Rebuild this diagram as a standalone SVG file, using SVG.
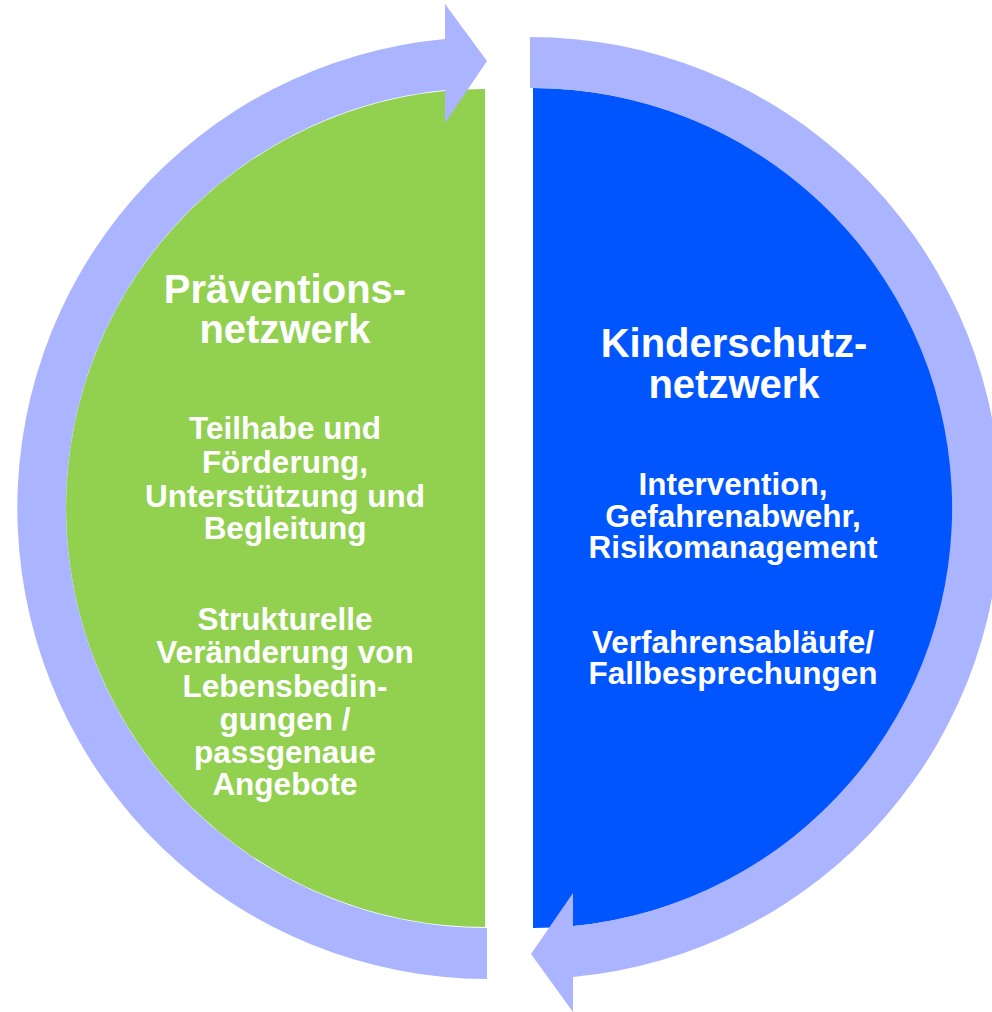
<svg xmlns="http://www.w3.org/2000/svg" width="992" height="1012" viewBox="0 0 992 1012">
<style>
.t{font-family:"Liberation Sans",Arial,sans-serif;font-weight:bold;fill:#fff;text-anchor:middle}
.h{font-size:40px}
.b{font-size:31.5px}
.ring{fill:#AAB4FF}
</style>
<rect width="992" height="1012" fill="#fff"/>
<g id="node-praevention">
<path d="M485 89 A419 419 0 0 0 485 927 Z" fill="#92D050"/>
<text class="t h" x="285" y="303">Präventions-</text>
<text class="t h" x="285" y="343">netzwerk</text>
<text class="t b" x="285" y="439">Teilhabe und</text>
<text class="t b" x="285" y="473">Förderung,</text>
<text class="t b" x="285" y="507">Unterstützung und</text>
<text class="t b" x="285" y="539">Begleitung</text>
<text class="t b" x="285" y="630">Strukturelle</text>
<text class="t b" x="285" y="663">Veränderung von</text>
<text class="t b" x="285" y="697">Lebensbedin-</text>
<text class="t b" x="285" y="730">gungen /</text>
<text class="t b" x="285" y="763">passgenaue</text>
<text class="t b" x="285" y="795">Angebote</text>
</g>
<g id="node-kinderschutz">
<path d="M533 88 A420 420 0 0 1 533 928 Z" fill="#0055FF"/>
<text class="t h" x="734" y="357">Kinderschutz-</text>
<text class="t h" x="734" y="398">netzwerk</text>
<text class="t b" x="733" y="495">Intervention,</text>
<text class="t b" x="733" y="527">Gefahrenabwehr,</text>
<text class="t b" x="733" y="558">Risikomanagement</text>
<text class="t b" x="733" y="653">Verfahrensabläufe/</text>
<text class="t b" x="733" y="684">Fallbesprechungen</text>
</g>
<g id="connectors">
<path class="ring" d="M487 979 A471 471 0 0 1 445 39 L445 4 L487 61 L445 123 L445 90 A420 420 0 0 0 487 928 Z"/>
<path class="ring" d="M530 37 A471 471 0 0 1 573 977 L573 1012 L531 954 L573 893 L573 926 A420 420 0 0 0 530 88 Z"/>
</g>
</svg>
